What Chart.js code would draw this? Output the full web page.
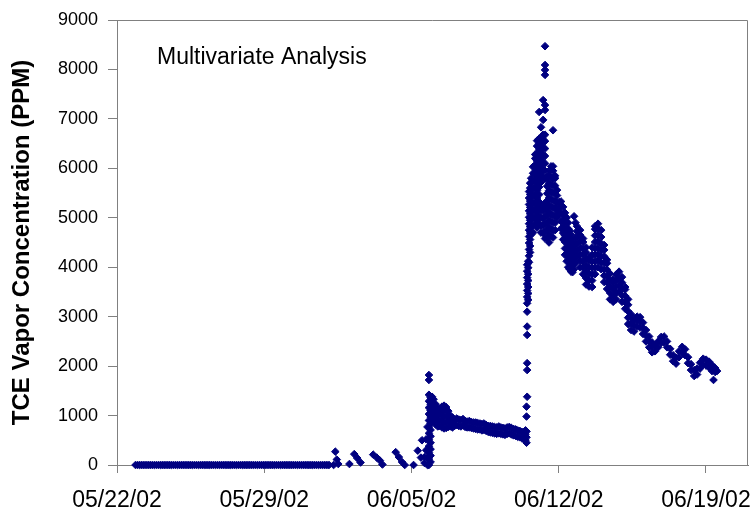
<!DOCTYPE html>
<html>
<head>
<meta charset="utf-8">
<script src="https://cdn.jsdelivr.net/npm/chart.js@4.4.0/dist/chart.umd.min.js"></script>
<style>
  html, body { margin: 0; padding: 0; background: #fff; }
  #wrap { width: 756px; height: 514px; }
</style>
</head>
<body>
<div id="wrap"><canvas id="chart"></canvas></div>
<script>
// x = days after 05/22/02, y = TCE vapour concentration in ppm
const tickDays = [0, 7, 14, 21, 28];
const tickLabels = ['05/22/02', '05/29/02', '06/05/02', '06/12/02', '06/19/02'];
const yTitle = 'TCE Vapor Concentration (PPM)';
const note = 'Multivariate Analysis';

// flat zero readings before the test starts
const baselineDays = [0.88, 0.98, 1.08, 1.18, 1.28, 1.38, 1.48, 1.58, 1.68, 1.78, 1.88, 1.98, 2.08, 2.18, 2.28,
  2.38, 2.48, 2.58, 2.68, 2.78, 2.88, 2.98, 3.08, 3.18, 3.28, 3.38, 3.48, 3.58, 3.68, 3.78, 3.88, 3.98, 4.08, 4.18,
  4.28, 4.38, 4.48, 4.58, 4.68, 4.78, 4.88, 4.98, 5.08, 5.18, 5.28, 5.38, 5.48, 5.58, 5.68, 5.78, 5.88, 5.98, 6.08,
  6.18, 6.28, 6.38, 6.48, 6.58, 6.68, 6.78, 6.88, 6.98, 7.08, 7.18, 7.28, 7.38, 7.48, 7.58, 7.68, 7.78, 7.88, 7.98,
  8.08, 8.18, 8.28, 8.38, 8.48, 8.58, 8.68, 8.78, 8.88, 8.98, 9.08, 9.18, 9.28, 9.38, 9.48, 9.58, 9.68, 9.78, 9.88,
  9.98, 10.08];
const baselinePpm = [
  0, 0, 0, 0, 0, 0, 0, 0, 0, 0, 0, 0, 0, 0, 0, 0, 0, 0, 0, 0, 0, 0, 0, 0, 0, 0, 0, 0, 0, 0, 0,
  0, 0, 0, 0, 0, 0, 0, 0, 0, 0, 0, 0, 0, 0, 0, 0, 0, 0, 0, 0, 0, 0, 0, 0, 0, 0, 0, 0, 0, 0, 0,
  0, 0, 0, 0, 0, 0, 0, 0, 0, 0, 0, 0, 0, 0, 0, 0, 0, 0, 0, 0, 0, 0, 0, 0, 0, 0, 0, 0, 0, 0, 0];

// [day, readings at that time]
const earlyScatter = [
  [10.30, [0]], [10.38, [270]], [10.45, [110]], [10.52, [20]],
  [11.05, [20]], [11.28, [220]], [11.42, [140]], [11.58, [50]],
  [12.18, [210]], [12.35, [150]], [12.50, [90]], [12.62, [10]],
  [13.25, [260]], [13.40, [160]], [13.55, [60]], [13.68, [0]],
  [14.10, [0]], [14.30, [290]], [14.45, [150]], [14.50, [500]]
];

const firstRise = [
  [14.62, [40, 160]],
  [14.70, [300, 520]],
  [14.76, [0, 150, 770]],
  [14.83, [0, 120, 250, 380, 510, 640, 770, 900, 1030, 1160, 1290, 1420, 1720, 1820]],
  [14.91, [60, 190, 320, 450, 580, 710, 840, 970, 1100, 1230, 1360]],
  [14.98, [950, 1080, 1210, 1380]]
];

const plateau = [
  [15.05, [880, 1000, 1120, 1240, 1330]], [15.15, [820, 940, 1060, 1180, 1230]],
  [15.25, [780, 900, 1020, 1120]], [15.35, [790, 910, 1030, 1130]],
  [15.45, [760, 880, 1000, 1120, 1180]], [15.55, [740, 860, 980, 1100, 1200]],
  [15.65, [750, 870, 990, 1110, 1170]], [15.75, [770, 890, 1010, 1090]],
  [15.85, [780, 900, 1000]], [15.95, [760, 860, 960]],
  [16.05, [790, 920]], [16.15, [810, 940]], [16.25, [790, 920]], [16.35, [780, 910]],
  [16.45, [800, 930]], [16.55, [770, 890]], [16.65, [760, 880]], [16.75, [760, 890]],
  [16.85, [750, 870]], [16.95, [740, 860]], [17.05, [730, 860]], [17.15, [720, 850]],
  [17.25, [720, 840]], [17.35, [700, 830]], [17.45, [710, 840]], [17.55, [690, 810]],
  [17.65, [670, 790]], [17.75, [660, 790]], [17.85, [650, 780]], [17.95, [640, 770]],
  [18.05, [630, 760]], [18.15, [640, 780]], [18.25, [630, 760]], [18.35, [620, 750]],
  [18.45, [610, 740]], [18.55, [630, 760]], [18.65, [640, 770]], [18.75, [620, 750]],
  [18.85, [600, 730]], [18.95, [590, 720]], [19.05, [570, 700]], [19.15, [560, 690]],
  [19.25, [540, 670]], [19.35, [520, 640]], [19.42, [500, 620, 700]]
];

const spike = [
  [19.47, [450, 560, 680, 980, 1180]],
  [19.50, [1380, 1920, 2060, 2630, 2800, 3100, 3270, 3400, 3530, 3660, 3790, 3920, 4050]],
  [19.55, [3340, 3470, 3600, 3730, 3860, 3990, 4120]],
  [19.59, [4100, 4230, 4360, 4490, 4620, 4750, 4880, 5010, 5140, 5270, 5400, 5530]],
  [19.64, [4300, 4430, 4560, 4690, 4820, 4950, 5080, 5210, 5340, 5470, 5600, 5700]],
  [19.69, [4660, 4810, 4960, 5110, 5260, 5410, 5560, 5710, 5800]],
  [19.78, [4700, 4850, 5000, 5150, 5300, 5450, 5600, 5750, 5900, 6030]],
  [19.88, [4870, 5020, 5170, 5320, 5470, 5620, 5770, 5920, 6070, 6200, 6280]],
  [19.97, [4800, 4950, 5100, 5250, 5400, 5550, 5700, 5850, 6000, 6150, 6300, 6450, 6560]],
  [20.07, [4870, 5020, 5170, 5320, 5470, 5620, 5770, 5920, 6070, 6220, 6370, 6500, 6600, 7140]],
  [20.16, [4700, 4850, 5000, 5150, 5270, 5720, 5870, 6020, 6170, 6320, 6470, 6620, 6830]],
  [20.26, [4690, 4840, 4990, 5140, 5220, 5810, 5960, 6110, 6260, 6410, 6560, 6680, 6980, 7380]],
  [20.35, [4580, 4730, 4880, 5030, 5180, 5300, 5800, 5950, 6100, 6250, 6400, 6550, 6680, 7180, 7280, 7890,
    7990, 8090, 8470]],
  [20.45, [4590, 4740, 4890, 5040, 5190, 5340, 5490, 5640, 5790, 5830]],
  [20.54, [4500, 4650, 4800, 4950, 5100, 5250, 5400, 5550, 5700, 5850, 5950]],
  [20.64, [4620, 4770, 4920, 5070, 5220, 5370, 5520, 5670, 5820, 5970, 6040]],
  [20.73, [4600, 4750, 4900, 5050, 5200, 5350, 5500, 5650, 5800, 5950, 6040, 6770]],
  [20.83, [4750, 4900, 5050, 5200, 5350, 5500, 5650, 5800, 5850]],
  [20.92, [5000, 5150, 5300, 5450, 5560]],
  [21.02, [5080, 5200, 5320]],
  [21.11, [4780, 4930, 5080, 5230, 5330]],
  [21.21, [4560, 4690, 4820, 4950, 5080, 5220]],
  [21.30, [4250, 4380, 4510, 4640, 4770, 4900, 5030, 5100]],
  [21.38, [4120, 4250, 4380, 4510, 4640, 4770, 4900, 5000]],
  [21.45, [4000, 4130, 4260, 4390, 4520, 4650, 4780, 4900]],
  [21.52, [3960, 4090, 4220, 4350, 4480, 4610, 4740]],
  [21.59, [3910, 4040, 4170, 4300, 4430, 4560, 4660]]
];

const decay = [
  [21.66, [3900, 4030, 4160, 4290, 4420, 4520]],
  [21.73, [3960, 4090, 4220, 4350, 4440, 5030]],
  [21.80, [4080, 4210, 4340, 4470, 4600, 4900]],
  [21.87, [4210, 4340, 4470, 4600, 4730, 4830]],
  [22.02, [4000, 4130, 4260, 4390, 4520, 4650, 4750]],
  [22.16, [3860, 3990, 4120, 4250, 4380, 4510, 4580]],
  [22.30, [3650, 3780, 3910, 4040, 4170, 4300, 4400]],
  [22.44, [3610, 3740, 3870, 4000, 4130, 4200]],
  [22.59, [3600, 3730, 3860, 3990, 4120, 4250, 4400]],
  [22.73, [3860, 3990, 4120, 4250, 4380, 4510, 4640, 4770, 4830]],
  [22.87, [4000, 4130, 4260, 4390, 4520, 4650, 4780, 4880]],
  [23.02, [3960, 4090, 4220, 4350, 4480, 4610, 4750]],
  [23.16, [3700, 3830, 3960, 4090, 4220, 4350, 4450]],
  [23.30, [3560, 3690, 3820, 3950, 4080, 4150]],
  [23.44, [3350, 3480, 3610, 3740, 3870]],
  [23.59, [3300, 3430, 3560, 3690, 3750]],
  [23.73, [3350, 3480, 3610, 3740, 3850]],
  [23.87, [3510, 3640, 3770, 3910]],
  [24.01, [3300, 3430, 3560, 3690, 3800]],
  [24.16, [3160, 3290, 3420, 3550, 3600]],
  [24.30, [2850, 2980, 3110, 3240, 3350]],
  [24.44, [2730, 2860, 2990, 3050]],
  [24.58, [2700, 2820, 2920]], [24.73, [2800, 2920, 3000]], [24.87, [2780, 2900, 2990]],
  [25.01, [2650, 2770, 2880]], [25.15, [2500, 2620, 2730]], [25.30, [2380, 2500, 2600]],
  [25.44, [2280, 2390, 2480]], [25.58, [2300, 2410]], [25.73, [2380, 2500]],
  [25.87, [2470, 2590]], [26.01, [2480, 2600]], [26.15, [2380, 2500]],
  [26.30, [2230, 2350]], [26.44, [2100, 2220]], [26.58, [2050, 2170]],
  [26.72, [2180, 2300]], [26.87, [2270, 2390]], [27.01, [2220, 2340]],
  [27.15, [2060, 2180]], [27.29, [1920, 2040]], [27.44, [1800, 1920]],
  [27.58, [1830, 1950]], [27.72, [1950, 2070]], [27.87, [2030, 2150]],
  [28.01, [2010, 2130]], [28.15, [1970, 2090]], [28.29, [1900, 2020]],
  [28.36, [1720]], [28.44, [1880, 1960]], [28.53, [1900]]
];

const fromColumns = cols => cols.flatMap(([d, vals]) => vals.map(v => ({ x: d, y: v })));
const points = baselineDays.map((d, i) => ({ x: d, y: baselinePpm[i] }))
  .concat(fromColumns(earlyScatter), fromColumns(firstRise), fromColumns(plateau),
          fromColumns(spike), fromColumns(decay));

Chart.defaults.font.family = '"Liberation Sans", Arial, sans-serif';
Chart.defaults.color = '#000';

const frame = {
  id: 'frame',
  beforeDatasetsDraw(chart) {
    const { ctx, chartArea: a } = chart;
    ctx.save();
    ctx.strokeStyle = '#808080';
    ctx.lineWidth = 1;
    ctx.beginPath();
    ctx.moveTo(a.left, a.top + 0.5);
    ctx.lineTo(a.right - 0.5, a.top + 0.5);
    ctx.lineTo(a.right - 0.5, a.bottom);
    ctx.stroke();
    ctx.fillStyle = '#000';
    ctx.font = '23px "Liberation Sans", Arial, sans-serif';
    ctx.textBaseline = 'alphabetic';
    ctx.fillText(note, a.left + 40, a.top + 44);
    ctx.restore();
  }
};

new Chart(document.getElementById('chart'), {
  type: 'scatter',
  data: {
    datasets: [{
      data: points,
      pointStyle: 'rectRot',
      pointRadius: 3.8,
      borderWidth: 1,
      backgroundColor: '#000080',
      borderColor: '#000080',
      clip: false
    }]
  },
  options: {
    responsive: true,
    maintainAspectRatio: false,
    animation: false,
    layout: { padding: { top: 20, right: 8, left: 0, bottom: 0 } },
    plugins: { legend: { display: false }, tooltip: { enabled: false } },
    scales: {
      x: {
        type: 'linear', min: 0, max: 30,
        afterBuildTicks: s => { s.ticks = tickDays.map(v => ({ value: v })); },
        afterFit: s => { s.height = 49; s.paddingLeft = 0; s.paddingRight = 0; },
        ticks: {
          callback: (v, i) => tickLabels[i],
          font: { size: 23 }, padding: 14, maxRotation: 0, autoSkip: false
        },
        grid: { drawOnChartArea: false, color: '#808080', tickLength: 8 },
        border: { color: '#808080' }
      },
      y: {
        min: 0, max: 9000,
        afterFit: s => { s.width = 117; s.paddingTop = 0; s.paddingBottom = 0; },
        ticks: { stepSize: 1000, font: { size: 18 }, padding: 10, callback: v => String(v) },
        grid: { drawOnChartArea: false, color: '#808080', tickLength: 9 },
        border: { color: '#808080' },
        title: {
          display: true, text: yTitle,
          font: { size: 24, weight: 'bold' }, padding: { top: 8, bottom: 0 }
        }
      }
    }
  },
  plugins: [frame]
});
</script>
</body>
</html>
